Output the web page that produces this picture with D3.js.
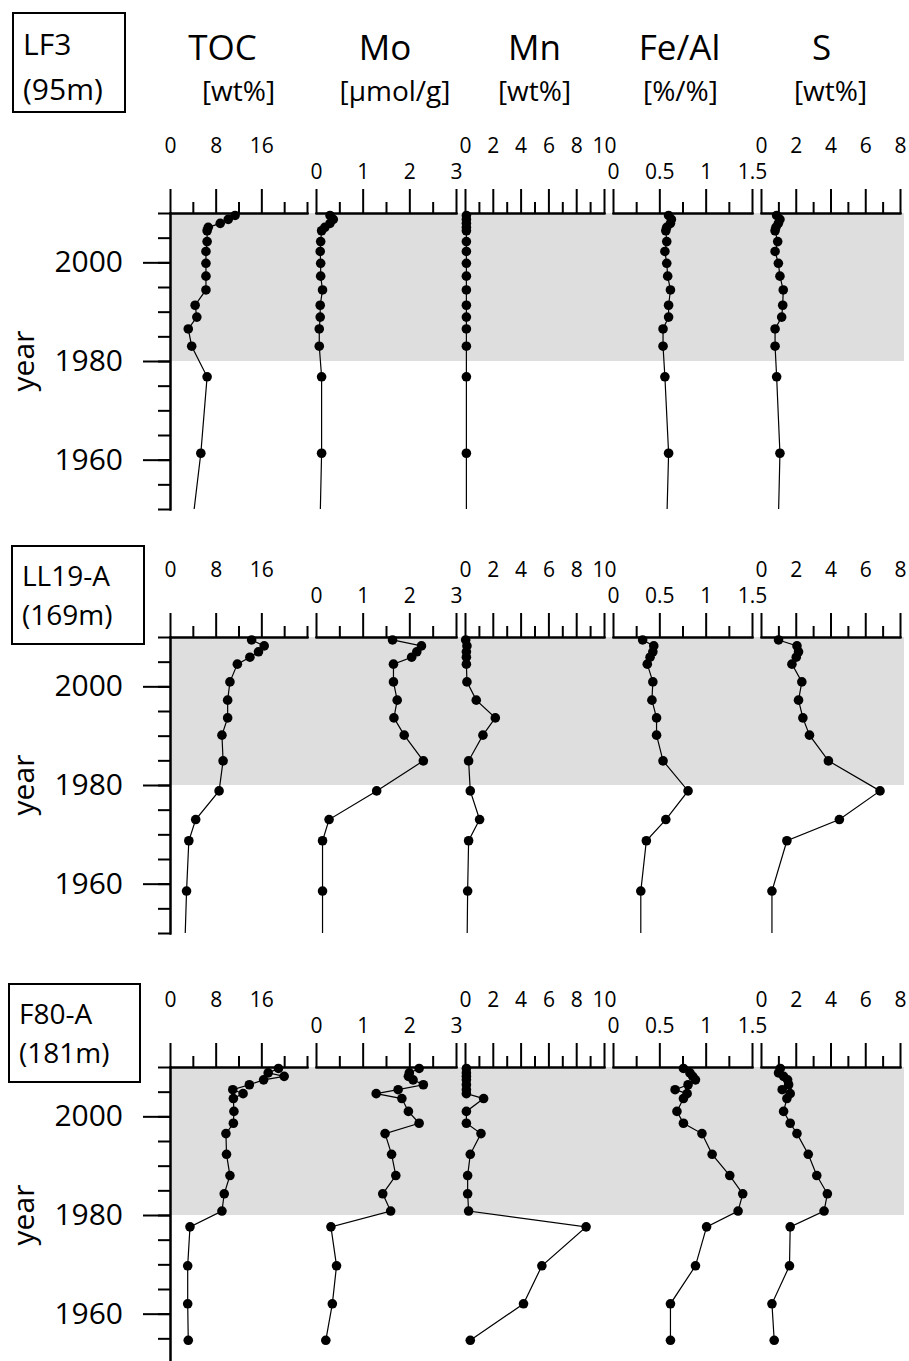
<html lang="en">
<head>
    <title>Sediment core profiles</title>
    <meta charset="utf-8">
    <script src="https://d3js.org/d3.v7.min.js"></script>
    <style>
        body { margin: 0; background: #fff; }
        svg text { font-family: "Open Sans", sans-serif; fill: #000; }
        .axis path, .axis line { stroke: #000; stroke-width: 2; stroke-linecap: square; }
    </style>
</head>
<body>
<svg class="chart"></svg>
<script>
    // ---- data ----
    var coreNames = ["LF3", "LL19-A", "F80-A"];
    var coreDepths = ["(95m)", "(169m)", "(181m)"];
    var variables = ["TOC", "Mo", "Mn", "Fe/Al", "S"];
    var units = ["[wt%]", "[\u00b5mol/g]", "[wt%]", "[%/%]", "[wt%]"];
    var xMax = [24, 3, 10, 1.5, 8];
    var majorTicks = [[0, 8, 16], [0, 1, 2, 3], [0, 2, 4, 6, 8, 10], [0, 0.5, 1, 1.5], [0, 2, 4, 6, 8]];
    var minorTicks = [[4, 12, 20, 24], [0.5, 1.5, 2.5], [1, 3, 5, 7, 9], [0.25, 0.75, 1.25], [1, 3, 5, 7]];
    var yearDomain = [2010, 1950];
    var yearMajor = [1960, 1980, 2000];
    var yearMinor = [1950, 1955, 1960, 1965, 1970, 1975, 1980, 1985, 1990, 1995, 2000, 2005, 2010];
    var shadedPeriod = [1980, 2010];

    // LF3
    var lf3Years = [2009.5, 2008.7, 2007.9, 2007.1, 2006.4, 2004.2, 2002.2, 1999.8, 1997.2, 1994.4, 1991.3, 1988.9, 1986.5, 1983.0, 1976.8, 1961.3, 1940];
    var lf3TOC = [11.4, 10.2, 8.8, 6.7, 6.5, 6.5, 6.3, 6.3, 6.3, 6.3, 4.4, 4.7, 3.2, 3.8, 6.5, 5.4, 3.2];
    var lf3Mo = [0.30, 0.37, 0.30, 0.19, 0.12, 0.10, 0.09, 0.10, 0.10, 0.14, 0.09, 0.09, 0.07, 0.07, 0.12, 0.12, 0.07];
    var lf3Mn = [0.1, 0.1, 0.1, 0.1, 0.1, 0.1, 0.1, 0.1, 0.1, 0.1, 0.1, 0.1, 0.1, 0.1, 0.1, 0.1, 0.1];
    var lf3FeAl = [0.60, 0.63, 0.62, 0.58, 0.57, 0.58, 0.56, 0.58, 0.59, 0.62, 0.60, 0.60, 0.54, 0.54, 0.56, 0.60, 0.57];
    var lf3S = [0.90, 1.09, 1.00, 0.86, 0.81, 0.96, 0.81, 1.00, 1.09, 1.28, 1.25, 1.19, 0.81, 0.81, 0.90, 1.09, 0.95];

    // LL19-A
    var ll19Years = [2009.4, 2008.2, 2007.0, 2005.9, 2004.5, 2000.9, 1997.2, 1993.6, 1990.1, 1984.9, 1978.8, 1973.0, 1968.7, 1958.5, 1940];
    var ll19TOC = [14.3, 16.5, 15.5, 14.0, 11.8, 10.5, 10.1, 10.1, 9.1, 9.3, 8.6, 4.5, 3.3, 2.9, 2.4];
    var ll19Mo = [1.64, 2.26, 2.16, 2.05, 1.66, 1.66, 1.74, 1.67, 1.89, 2.30, 1.30, 0.28, 0.14, 0.14, 0.14];
    var ll19Mn = [0.05, 0.14, 0.1, 0.1, 0.1, 0.14, 0.81, 2.18, 1.29, 0.26, 0.38, 1.05, 0.26, 0.19, 0.12];
    var ll19FeAl = [0.32, 0.44, 0.43, 0.40, 0.37, 0.43, 0.42, 0.47, 0.47, 0.54, 0.81, 0.57, 0.36, 0.30, 0.30];
    var ll19S = [1.01, 2.07, 2.16, 2.03, 1.78, 2.35, 2.16, 2.41, 2.79, 3.88, 6.85, 4.51, 1.49, 0.63, 0.63];

    // F80-A
    var f80Years = [2009.7, 2008.8, 2008.1, 2007.4, 2006.4, 2005.4, 2004.6, 2003.6, 2001.0, 1998.6, 1996.5, 1992.3, 1988.0, 1984.3, 1980.8, 1977.6, 1969.7, 1962.0, 1954.6];
    var f80TOC = [19.0, 17.2, 20.0, 16.4, 13.9, 11.0, 12.8, 11.1, 11.2, 11.1, 9.8, 9.9, 10.5, 9.5, 9.1, 3.5, 3.1, 3.1, 3.2];
    var f80Mo = [2.21, 2.00, 1.98, 2.08, 2.30, 1.76, 1.29, 1.84, 1.98, 2.21, 1.48, 1.62, 1.71, 1.43, 1.60, 0.32, 0.44, 0.35, 0.21];
    var f80Mn = [0.1, 0.1, 0.1, 0.1, 0.1, 0.1, 0.1, 1.34, 0.1, 0.1, 1.15, 0.38, 0.19, 0.19, 0.26, 8.71, 5.53, 4.21, 0.38];
    var f80FeAl = [0.76, 0.83, 0.86, 0.89, 0.81, 0.67, 0.80, 0.76, 0.69, 0.76, 0.96, 1.07, 1.26, 1.40, 1.35, 1.01, 0.89, 0.62, 0.62];
    var f80S = [1.11, 1.01, 1.30, 1.53, 1.59, 1.22, 1.68, 1.49, 1.30, 1.68, 2.07, 2.72, 3.21, 3.82, 3.63, 1.68, 1.64, 0.63, 0.76];

    var coreYears = [lf3Years, ll19Years, f80Years];
    var coreValues = [
        [lf3TOC, lf3Mo, lf3Mn, lf3FeAl, lf3S],
        [ll19TOC, ll19Mo, ll19Mn, ll19FeAl, ll19S],
        [f80TOC, f80Mo, f80Mn, f80FeAl, f80S]
    ];

    function show() {

        'use strict';

        var width = 909, height = 1361;

        // layout
        var axisTops = [213, 637, 1067];
        var plotHeight = 296;
        var colX = [170, 316, 465, 613, 761];
        var colW = [137, 140, 139, 139, 139];
        var labelHigh = [true, false, true, false, true];
        var titleDx = [-16, -1, 0, -3, -9];
        var unitDx = [0, 9, 0, -2, 0];
        var boxes = [
            {x: 13, y: 13, w: 112, h: 99, first: 42, gap: 45, size: 30},
            {x: 12, y: 546, w: 132, h: 98, first: 40, gap: 39, size: 28},
            {x: 9, y: 984, w: 131, h: 98, first: 40, gap: 39, size: 28}
        ];
        var shadeRight = 904;

        var svg = d3.select(".chart")
            .attr("width", width)
            .attr("height", height);

        var defs = svg.append("defs");

        // column titles
        variables.forEach(function (v, i) {
            var cx = colX[i] + colW[i] / 2;
            svg.append("text")
                .attr("x", cx + titleDx[i])
                .attr("y", 60)
                .attr("text-anchor", "middle")
                .style("font-size", "35px")
                .text(v);
            svg.append("text")
                .attr("x", cx + unitDx[i])
                .attr("y", 101)
                .attr("text-anchor", "middle")
                .style("font-size", "28px")
                .text(units[i]);
        });

        coreNames.forEach(function (name, p) {
            var top = axisTops[p];
            var panel = svg.append("g").attr("class", "panel");

            var y = d3.scaleLinear()
                .domain(yearDomain)
                .range([top, top + plotHeight]);

            // label box
            var b = boxes[p];
            panel.append("rect")
                .attr("x", b.x).attr("y", b.y)
                .attr("width", b.w).attr("height", b.h)
                .attr("fill", "none")
                .attr("stroke", "#000")
                .attr("stroke-width", 2);
            panel.append("text")
                .attr("x", b.x + 10).attr("y", b.y + b.first)
                .style("font-size", b.size + "px")
                .text(name);
            panel.append("text")
                .attr("x", b.x + 10).attr("y", b.y + b.first + b.gap)
                .style("font-size", b.size + "px")
                .text(coreDepths[p]);

            // shaded period
            panel.append("rect")
                .attr("x", colX[0])
                .attr("y", y(shadedPeriod[1]))
                .attr("width", shadeRight - colX[0])
                .attr("height", y(shadedPeriod[0]) - y(shadedPeriod[1]))
                .attr("fill", "#dedede");

            // year axis
            panel.append("g")
                .attr("class", "axis")
                .attr("transform", "translate(" + colX[0] + ",0)")
                .call(d3.axisLeft(y).tickValues(yearMinor).tickSize(11).tickSizeOuter(0).tickFormat(""));
            var yMajor = panel.append("g")
                .attr("class", "axis")
                .attr("transform", "translate(" + colX[0] + ",0)")
                .call(d3.axisLeft(y).tickValues(yearMajor).tickSize(26).tickSizeOuter(0)
                    .tickPadding(21).tickFormat(d3.format("d")));
            yMajor.selectAll("text")
                .attr("font-family", null)
                .style("font-size", "30px");

            panel.append("text")
                .attr("transform", "translate(34," + (top + plotHeight / 2) + ") rotate(-90)")
                .attr("text-anchor", "middle")
                .style("font-size", "30px")
                .text("year");

            var clipId = "clip-" + p;
            defs.append("clipPath")
                .attr("id", clipId)
                .append("rect")
                .attr("x", colX[0] - 10)
                .attr("y", top - 15)
                .attr("width", width - colX[0] + 10)
                .attr("height", plotHeight + 15);

            variables.forEach(function (v, i) {
                var x = d3.scaleLinear()
                    .domain([0, xMax[i]])
                    .range([colX[i], colX[i] + colW[i]]);

                panel.append("g")
                    .attr("class", "axis")
                    .attr("transform", "translate(0," + top + ")")
                    .call(d3.axisTop(x).tickValues(minorTicks[i]).tickSize(10).tickSizeOuter(0).tickFormat(""));

                var xa = panel.append("g")
                    .attr("class", "axis")
                    .attr("transform", "translate(0," + top + ")")
                    .call(d3.axisTop(x).tickValues(majorTicks[i]).tickSize(23).tickSizeOuter(0)
                        .tickPadding(labelHigh[i] ? 37 : 11)
                        .tickFormat(function (d) { return String(d); }));
                xa.selectAll("text")
                    .attr("font-family", null)
                    .style("font-size", "21px");

                var points = coreYears[p].map(function (yr, k) {
                    return {year: yr, value: coreValues[p][i][k]};
                });

                var line = d3.line()
                    .x(function (d) { return x(d.value); })
                    .y(function (d) { return y(d.year); });

                var dataG = panel.append("g")
                    .attr("clip-path", "url(#" + clipId + ")");

                dataG.append("path")
                    .datum(points)
                    .attr("d", line)
                    .attr("fill", "none")
                    .attr("stroke", "#000")
                    .attr("stroke-width", 1.2);

                dataG.selectAll("circle")
                    .data(points)
                    .enter()
                    .append("circle")
                    .attr("cx", function (d) { return x(d.value); })
                    .attr("cy", function (d) { return y(d.year); })
                    .attr("r", 4.8)
                    .attr("fill", "#000");
            });
        });
    }

    show();
</script>
</body>
</html>
